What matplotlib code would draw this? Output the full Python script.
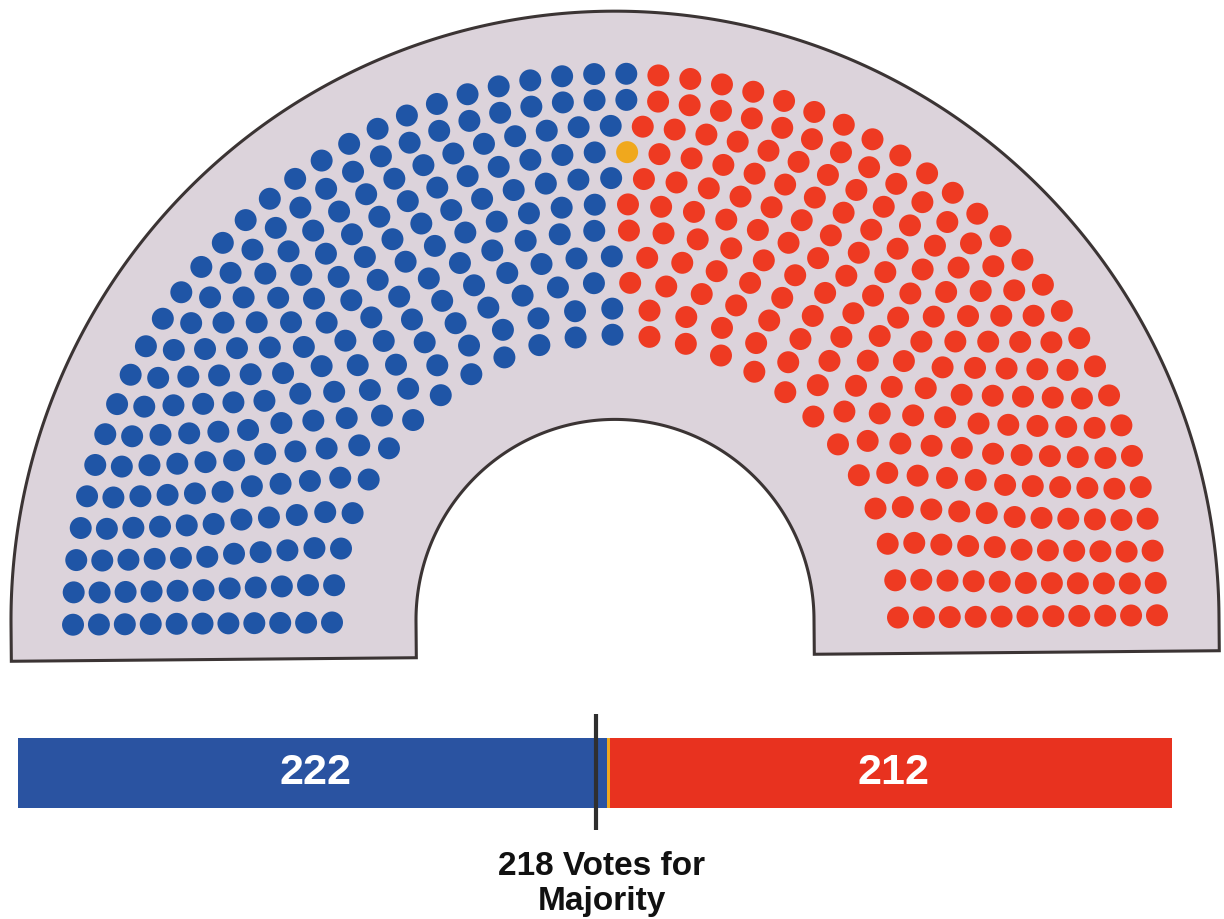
import numpy as np
import matplotlib
matplotlib.use('Agg')
from matplotlib import pyplot as plt
from matplotlib import transforms
from matplotlib.patches import Polygon

# Seats per party, in seating order from left to right
parties = ['blue', 'vacant', 'red']
seats = [222, 1, 212]
dot_colors = ['#1f55a6', '#f0a81d', '#ee3a22']
bar_colors = ['#2a53a1', '#f0a81d', '#e8321f']

# Seats in each arc of the hemicycle, innermost arc first
row_seats = [25, 27, 30, 33, 36, 40, 43, 46, 49, 52, 54]

majority = 218
majority_label = '218 Votes for\nMajority'

W, H = 1224, 919
fig = plt.figure(figsize=(W / 100, H / 100), dpi=100)
ax = fig.add_axes([0, 0, 1, 1])
ax.set_xlim(0, W)
ax.set_ylim(H, 0)
ax.axis('off')

# Hemicycle geometry (pixel units, y grows downwards)
cx, cy = 615, 620
stretch = 1.008
r_out, r_in, base = 604, 199, 656
r_first, r_step = 283, 25.9
tilt = transforms.Affine2D().rotate_deg_around(cx, cy, -0.5)

# Background shape of the chamber
t = np.linspace(np.pi, 0, 300)
outer = np.column_stack([cx + r_out * np.cos(t), cy - stretch * r_out * np.sin(t)])
inner = np.column_stack([cx + r_in * np.cos(t[::-1]), cy - stretch * r_in * np.sin(t[::-1])])
shape = np.vstack([[cx - r_out, base], outer, [cx + r_out, base],
                   [cx + r_in, base], inner, [cx - r_in, base]])
ax.add_patch(Polygon(tilt.transform(shape), closed=True, facecolor='#dcd3db',
                     edgecolor='#3b3434', linewidth=2.2, zorder=1))

# Seat positions: every arc spans 180 degrees, seats are filled by angle
angles, radii = [], []
for i, n in enumerate(row_seats):
    angles.append(np.linspace(np.pi, 0, n))
    radii.append(np.full(n, r_first + r_step * i))
angles = np.concatenate(angles)
radii = np.concatenate(radii)
order = np.argsort(-angles, kind='stable')
angles, radii = angles[order], radii[order]
xy = np.column_stack([cx + radii * np.cos(angles), cy - stretch * radii * np.sin(angles)])
xy = tilt.transform(xy)
colors = np.repeat(dot_colors, seats)
ax.scatter(xy[:, 0], xy[:, 1], s=250, c=colors, linewidths=0, zorder=2)

# Seat bar with majority marker
bax = fig.add_axes([18 / W, 1 - 840 / H, 1154 / W, 140 / H])
bax.set_xlim(0, sum(seats))
bax.set_ylim(0, 140)
bax.axis('off')
lefts = np.cumsum([0] + seats[:-1])
bax.barh(67, seats, left=lefts, height=70, color=bar_colors, linewidth=0)
bax.vlines(majority, 10, 126, color='#2f2f2f', linewidth=3, zorder=3)

for k in (0, 2):
    bax.text(lefts[k] + seats[k] / 2 + 1, 67, str(seats[k]), color='white',
             fontsize=31, fontweight='bold', family=['Liberation Sans', 'DejaVu Sans'],
             ha='center', va='center')

bax.text(majority + 2, -44, majority_label, color='#111111', fontsize=24,
         fontweight='bold', family=['Liberation Sans', 'DejaVu Sans'],
         ha='center', va='center', linespacing=1.15)

fig.savefig('out.png', dpi=100)
